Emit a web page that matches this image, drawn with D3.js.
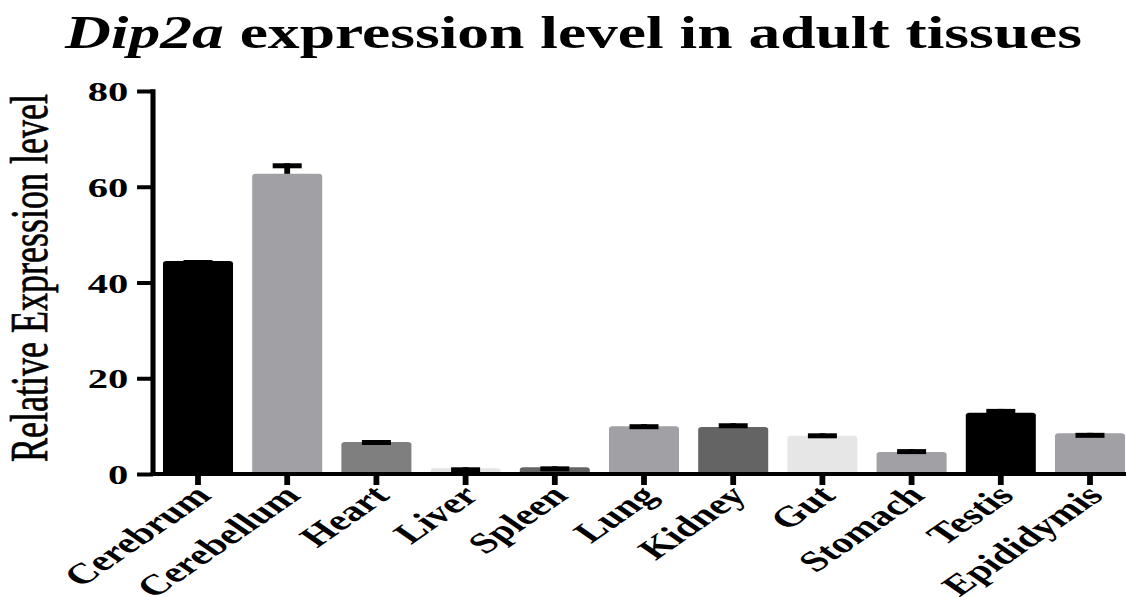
<!DOCTYPE html>
<html>
<head>
<meta charset="utf-8">
<script src="https://cdn.jsdelivr.net/npm/d3@7"></script>
<style>
  html, body { margin: 0; padding: 0; background: #fff; }
  svg { display: block; }
  text { font-family: "Liberation Serif", "Times New Roman", Times, serif; fill: #000; }
</style>
</head>
<body>
<svg id="chart" width="1126" height="597"></svg>
<script>
// Tissues, mean relative expression and error (SEM) per tissue
const tissues = ["Cerebrum", "Cerebellum", "Heart", "Liver", "Spleen", "Lung", "Kidney", "Gut", "Stomach", "Testis", "Epididymis"];
const expression = [44.5, 62.7, 6.7, 1.2, 1.4, 10.0, 9.8, 8.0, 4.6, 12.8, 8.5];
const errors = [0.2, 2.2, 0.4, 0.2, 0.2, 0.4, 0.8, 0.5, 0.6, 0.8, 0.1];
const barColors = ["#000000", "#a1a0a5", "#7f7f7f", "#e4e4e4", "#646464", "#a1a0a5", "#646464", "#e6e6e6", "#a1a0a5", "#000000", "#a1a0a5"];
const yTicks = [0, 20, 40, 60, 80];

const W = 1126, H = 597;
const sx = 1.45;               // the figure is drawn wide: horizontal stretch
const innerW = W / sx;

const svg = d3.select("#chart");
const g = svg.append("g").attr("transform", `scale(${sx},1)`);

const axisX0 = 153 / sx;
const x = d3.scaleBand()
  .domain(tissues)
  .range([axisX0, axisX0 + (89.2 / sx) * (11 - 0.215 + 2 * 0.112)])
  .paddingInner(0.215)
  .paddingOuter(0.112);

const y = d3.scaleLinear().domain([0, 80]).range([474, 91]);

const data = tissues.map((t, i) => ({ t, v: expression[i], e: errors[i], c: barColors[i] }));

// bars with slightly rounded top corners
function barPath(d) {
  const x0 = x(d.t), x1 = x0 + x.bandwidth();
  const yt = y(d.v), yb = y(0);
  const r = Math.min(2.5, (yb - yt) / 2);
  return `M${x0},${yb}V${yt + r}Q${x0},${yt} ${x0 + r},${yt}H${x1 - r}Q${x1},${yt} ${x1},${yt + r}V${yb}Z`;
}

g.selectAll("path.bar").data(data).join("path")
  .attr("class", "bar")
  .attr("d", barPath)
  .attr("fill", d => d.c);

// error bars (upper half only); the cap hangs below the mean + error level
const capT = 5;
const eb = g.selectAll("g.err").data(data).join("g").attr("class", "err");
eb.append("line")
  .attr("x1", d => x(d.t) + x.bandwidth() / 2)
  .attr("x2", d => x(d.t) + x.bandwidth() / 2)
  .attr("y1", d => y(d.v))
  .attr("y2", d => y(d.v + d.e))
  .attr("stroke", "#000").attr("stroke-width", 4);
eb.append("line")
  .attr("x1", d => x(d.t) + x.bandwidth() / 2 - 10)
  .attr("x2", d => x(d.t) + x.bandwidth() / 2 + 10)
  .attr("y1", d => y(d.v + d.e) + capT / 2)
  .attr("y2", d => y(d.v + d.e) + capT / 2)
  .attr("stroke", "#000").attr("stroke-width", capT);

// y axis
const yAxis = g.append("g")
  .attr("transform", `translate(${axisX0},0)`)
  .call(d3.axisLeft(y).tickValues(yTicks).tickSize(11).tickSizeOuter(0).tickPadding(6));
yAxis.select(".domain").attr("stroke", "#000").attr("stroke-width", 3.5)
  .attr("d", `M0,${y(0) + 2}V${y(80) - 1.75}`);
yAxis.selectAll(".tick line").attr("stroke", "#000").attr("stroke-width", 4);
yAxis.selectAll(".tick text")
  .attr("font-weight", "bold").attr("font-size", 28).attr("dy", "0.34em");

// x axis
const xAxis = g.append("g")
  .attr("transform", `translate(0,${y(0)})`)
  .call(d3.axisBottom(x).tickSize(11).tickSizeOuter(0).tickFormat(""));
xAxis.select(".domain").attr("stroke", "#000").attr("stroke-width", 4)
  .attr("d", `M${axisX0 - 1.75},0H${innerW + 20}`);
xAxis.selectAll(".tick line").attr("stroke", "#000").attr("stroke-width", 4);

// rotated tissue labels
g.append("g").selectAll("text").data(tissues).join("text")
  .attr("transform", d => `translate(${x(d) + x.bandwidth() / 2 + 3},${y(0) + 16}) rotate(-45)`)
  .attr("text-anchor", "end")
  .attr("font-weight", "bold")
  .attr("font-size", 29)
  .attr("dy", "0.35em")
  .text(d => d);

// y axis title
g.append("text")
  .attr("transform", `translate(${47 / sx},${278}) rotate(-90)`)
  .attr("text-anchor", "middle")
  .attr("font-size", 36)
  .attr("stroke", "#000").attr("stroke-width", 0.5)
  .text("Relative Expression level");

// chart title
const title = g.append("text")
  .attr("x", 573.5 / sx).attr("y", 48)
  .attr("text-anchor", "middle")
  .attr("font-weight", "bold")
  .attr("font-size", 47)
  .attr("textLength", 1017 / sx)
  .attr("lengthAdjust", "spacingAndGlyphs");
title.append("tspan").attr("font-style", "italic").text("Dip2a");
title.append("tspan").text(" expression level in adult tissues");
</script>
</body>
</html>
